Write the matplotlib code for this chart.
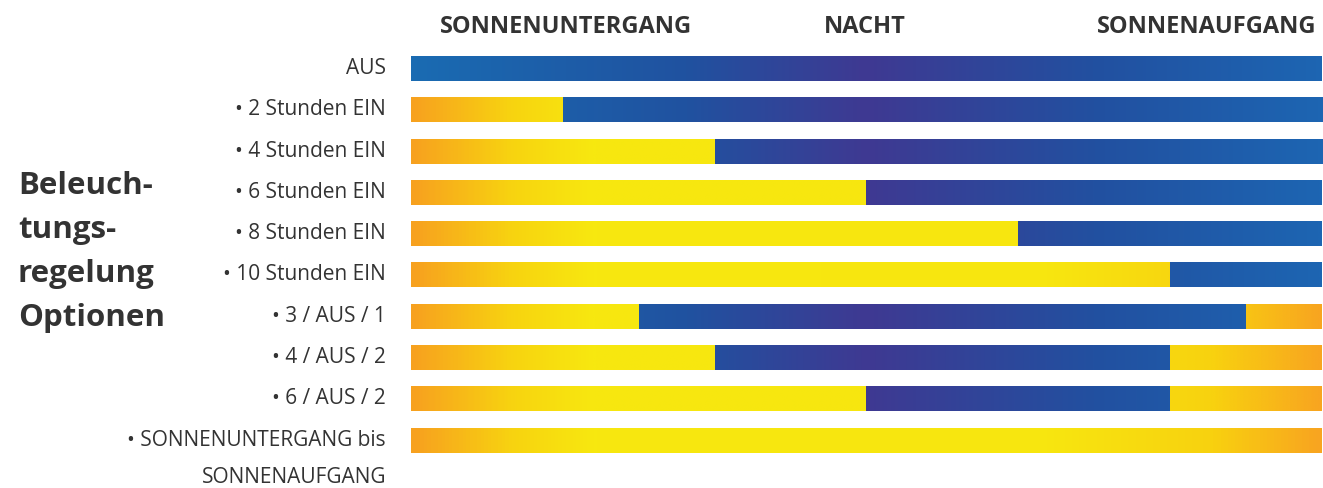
import numpy as np
import matplotlib.pyplot as plt
from matplotlib.colors import LinearSegmentedColormap

plt.rcParams['font.family'] = ['Open Sans', 'DejaVu Sans']

# Nacht = 12 Stunden, Sonnenuntergang bei 0
nacht = 12
optionen = ['AUS', '• 2 Stunden EIN', '• 4 Stunden EIN', '• 6 Stunden EIN',
            '• 8 Stunden EIN', '• 10 Stunden EIN', '• 3 / AUS / 1',
            '• 4 / AUS / 2', '• 6 / AUS / 2',
            '• SONNENUNTERGANG bis\nSONNENAUFGANG']
ein_abends = [0, 2, 4, 6, 8, 10, 3, 4, 6, 12]   # Stunden EIN nach Sonnenuntergang
ein_morgens = [0, 0, 0, 0, 0, 0, 1, 2, 2, 0]    # Stunden EIN vor Sonnenaufgang
kopf = ['SONNENUNTERGANG', 'NACHT', 'SONNENAUFGANG']

gelb = LinearSegmentedColormap.from_list('gelb', [
    (0.0, '#f7a11f'), (0.11, '#f8d410'), (0.2, '#f7e80f'),
    (0.7, '#f7e60f'), (0.88, '#f8d20f'), (1.0, '#f8a520')])
blau = LinearSegmentedColormap.from_list('blau', [
    (0.0, '#1a6bb2'), (0.3, '#2052a0'), (0.5, '#3f3992'),
    (0.75, '#2250a0'), (1.0, '#1d65b2')])

fig = plt.figure(figsize=(13.23, 4.89), dpi=100)
ax = fig.add_axes([411 / 1323, 0, 911 / 1323, 1])

row_px = 41.3
y0_px = 69.5
h = 25 / row_px


def segment(a, b, y, cmap):
    if b <= a:
        return
    t = np.linspace(a, b, 200)[None, :]
    ax.imshow(t, cmap=cmap, vmin=0, vmax=nacht, aspect='auto',
              extent=(a, b, y + h / 2, y - h / 2), interpolation='bilinear')


for i, (ab, mo) in enumerate(zip(ein_abends, ein_morgens)):
    segment(0, ab, i, gelb)
    segment(ab, nacht - mo, i, blau)
    segment(nacht - mo, nacht, i, gelb)

ax.set_xlim(0, nacht)
ax.set_ylim((489 - y0_px) / row_px, -y0_px / row_px)
ax.axis('off')

text_col = '#333333'
for i, lab in enumerate(optionen):
    y = 1 - (y0_px - 1 + i * row_px) / 489
    if '\n' in lab:
        l1, l2 = lab.split('\n')
        fig.text(386 / 1323, y, l1, ha='right', va='center', fontsize=15,
                 color=text_col)
        fig.text(386 / 1323, 1 - 478 / 489, l2, ha='right', va='center',
                 fontsize=15, color=text_col)
    else:
        fig.text(386 / 1323, y, lab, ha='right', va='center', fontsize=15,
                 color=text_col)

fig.text(440 / 1323, 1 - 27 / 489, kopf[0], ha='left', va='center',
         fontsize=17, fontweight='bold', color=text_col)
fig.text(865 / 1323, 1 - 27 / 489, kopf[1], ha='center', va='center',
         fontsize=17, fontweight='bold', color=text_col)
fig.text(1316 / 1323, 1 - 27 / 489, kopf[2], ha='right', va='center',
         fontsize=17, fontweight='bold', color=text_col)

for j, zeile in enumerate(['Beleuch-', 'tungs-', 'regelung', 'Optionen']):
    fig.text(18 / 1323, 1 - (186 + j * 44) / 489, zeile, ha='left',
             va='center', fontsize=22.5, fontweight='bold', color=text_col)

fig.savefig('out.png', dpi=100)
